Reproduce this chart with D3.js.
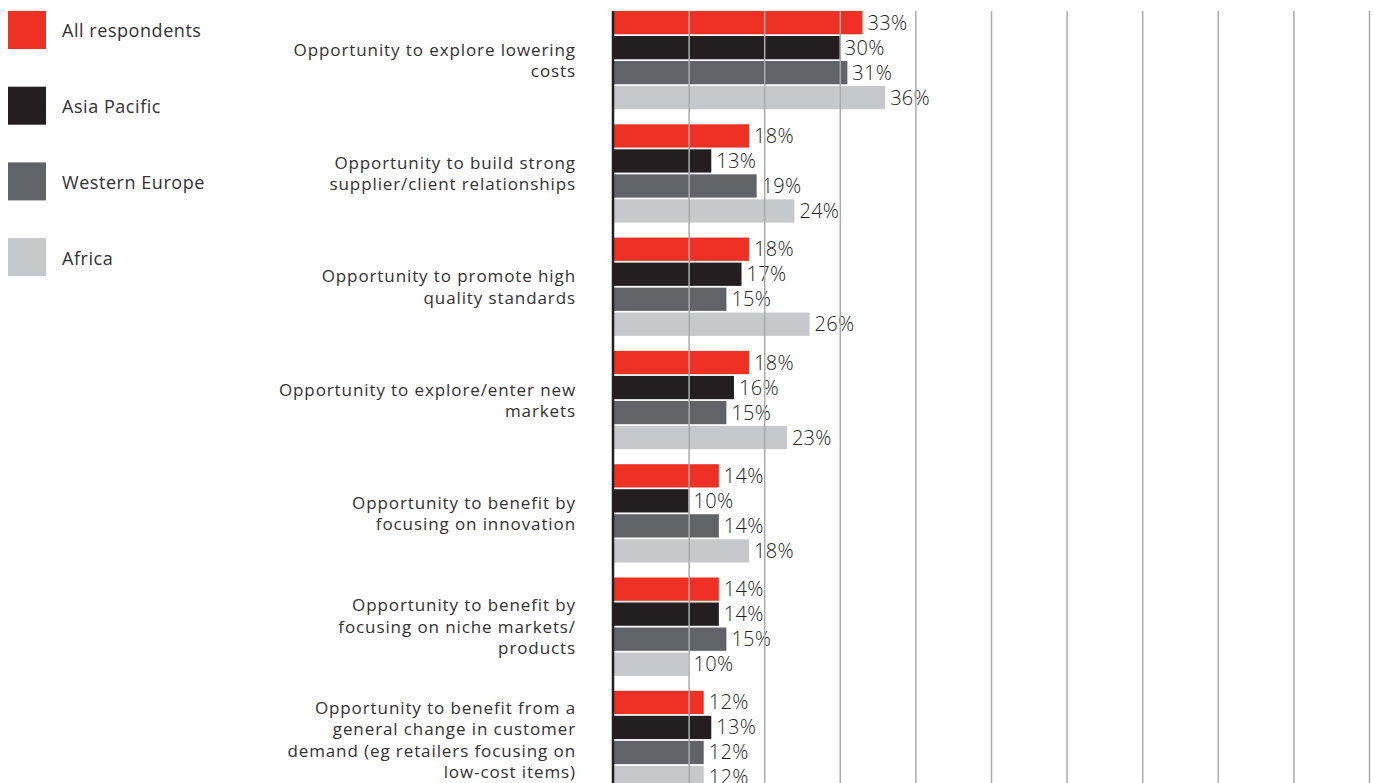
<!DOCTYPE html>
<html>
<head>
<meta charset="utf-8">
<script src="https://cdn.jsdelivr.net/npm/d3@7"></script>
<style>
  html, body { margin: 0; padding: 0; background: #fff; }
  svg { display: block; }
  text { font-family: "Open Sans", "Liberation Sans", sans-serif; fill: #333132; }
</style>
</head>
<body>
<svg id="chart" width="1374" height="783"></svg>
<script>
// Survey answers: opportunities, share of respondents by region
const categories = [
  ["Opportunity to explore lowering", "costs"],
  ["Opportunity to build strong", "supplier/client relationships"],
  ["Opportunity to promote high", "quality standards"],
  ["Opportunity to explore/enter new", "markets"],
  ["Opportunity to benefit by", "focusing on innovation"],
  ["Opportunity to benefit by", "focusing on niche markets/", "products"],
  ["Opportunity to benefit from a", "general change in customer", "demand (eg retailers focusing on", "low-cost items)"]
];
const seriesNames = ["All respondents", "Asia Pacific", "Western Europe", "Africa"];
const allRespondents = [33, 18, 18, 18, 14, 14, 12];
const asiaPacific    = [30, 13, 17, 16, 10, 14, 13];
const westernEurope  = [31, 19, 15, 15, 14, 15, 12];
const africa         = [36, 24, 26, 23, 18, 10, 12];
const gridTicks = [10, 20, 30, 40, 50, 60, 70, 80, 90, 100];

const seriesValues = [allRespondents, asiaPacific, westernEurope, africa];
const colors = ["#EE3124", "#231F20", "#626366", "#C7C8CA"];

const svg = d3.select("#chart");

const plotLeft = 613, plotRight = 1369, plotTop = 11;
const x = d3.scaleLinear().domain([0, 100]).range([plotLeft, plotRight]);

// Group layout: fixed step between groups, fixed gap after each group
const groupStep = 113.3, groupGap = 15;
const n = categories.length;
const y0 = d3.scaleBand()
  .domain(d3.range(n))
  .range([plotTop, plotTop + groupStep * (n - 1) + (groupStep - groupGap)])
  .paddingInner(groupGap / groupStep)
  .paddingOuter(0)
  .align(0);
const y1 = d3.scaleBand()
  .domain(d3.range(seriesNames.length))
  .range([0, y0.bandwidth()])
  .paddingInner(0.07);

// Bars
const groups = svg.append("g").selectAll("g")
  .data(categories)
  .join("g")
  .attr("transform", (d, i) => `translate(0,${y0(i)})`);

groups.each(function (cat, ci) {
  const g = d3.select(this);
  const rows = seriesValues.map((vals, si) => ({ si, v: vals[ci] }));
  g.selectAll("rect")
    .data(rows)
    .join("rect")
    .attr("x", x(0))
    .attr("y", d => y1(d.si))
    .attr("width", d => x(d.v) - x(0))
    .attr("height", y1.bandwidth())
    .attr("fill", d => colors[d.si]);
});

// Vertical gridlines drawn over bars
const gridAxis = d3.axisBottom(x).tickValues(gridTicks).tickSize(783 - plotTop).tickFormat("");
const grid = svg.append("g")
  .attr("transform", `translate(0,${plotTop})`)
  .call(gridAxis);
grid.select(".domain").remove();
grid.selectAll(".tick line").attr("stroke", "#ababad").attr("stroke-width", 1.5);

// Value labels
groups.each(function (cat, ci) {
  const g = d3.select(this);
  const rows = seriesValues.map((vals, si) => ({ si, v: vals[ci] }));
  g.selectAll("text.val")
    .data(rows)
    .join("text")
    .attr("class", "val")
    .attr("x", d => x(d.v) + 5)
    .attr("y", d => y1(d.si) + y1.bandwidth() / 2)
    .attr("dy", "0.35em")
    .attr("font-size", 20)
    .attr("font-weight", 300)
    .attr("letter-spacing", 0.3)
    .style("fill", "#231F20")
    .text(d => d.v + "%");
});

// Zero axis line
svg.append("line")
  .attr("x1", x(0)).attr("x2", x(0))
  .attr("y1", plotTop).attr("y2", 783)
  .attr("stroke", "#231F20").attr("stroke-width", 2.5);

// Category labels, right aligned left of the axis
const lineH = 21.3;
groups.each(function (lines, ci) {
  const g = d3.select(this);
  const cy = y0.bandwidth() / 2;
  const t = g.append("text")
    .attr("text-anchor", "end")
    .attr("font-size", 17)
    .attr("letter-spacing", 0.9);
  lines.forEach((ln, li) => {
    t.append("tspan")
      .attr("x", 576)
      .attr("y", cy + (li - (lines.length - 1) / 2) * lineH)
      .attr("dy", "0.36em")
      .text(ln);
  });
});

// Legend
const legend = svg.append("g").selectAll("g")
  .data(seriesNames)
  .join("g")
  .attr("transform", (d, i) => `translate(8,${11 + i * 75.7})`);
legend.append("rect")
  .attr("width", 38).attr("height", 38)
  .attr("fill", (d, i) => colors[i]);
legend.append("text")
  .attr("x", 54).attr("y", 20).attr("dy", "0.36em")
  .attr("font-size", 18)
  .attr("letter-spacing", 0.55)
  .text(d => d);
</script>
</body>
</html>
